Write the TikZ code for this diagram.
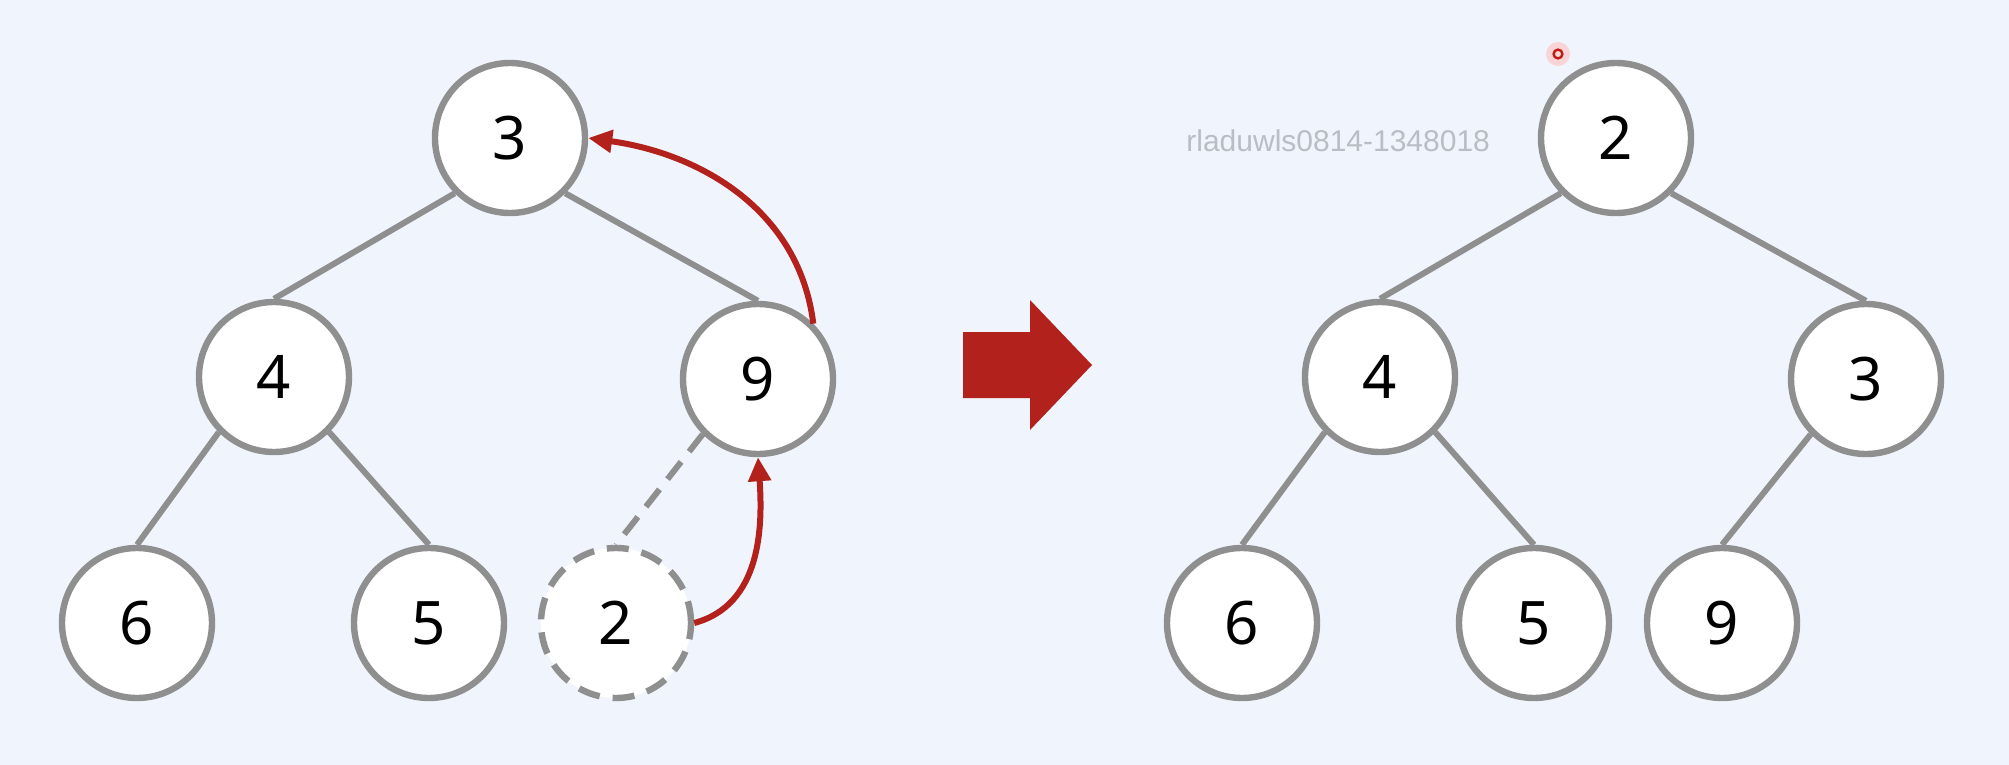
\documentclass[tikz,border=0pt]{standalone}
\usepackage{fontspec}
\setmainfont{Noto Sans}
\newfontfamily\wmfont{Liberation Sans}
\usetikzlibrary{arrows.meta}
\definecolor{bgc}{HTML}{F0F5FD}
\definecolor{edgegray}{HTML}{8F8F8F}
\definecolor{hred}{HTML}{B3211C}
\definecolor{wmgray}{HTML}{B9BDC6}
\tikzset{
  tnode/.style={circle, draw=edgegray, line width=3.2pt, fill=white, minimum size=75pt, inner sep=0pt, font=\fontsize{30}{34}\selectfont},
  dnode/.style={tnode, dash pattern=on 11pt off 6.5pt},
  tedge/.style={draw=edgegray, line width=3pt},
  dedge/.style={tedge, dash pattern=on 11pt off 6.5pt},
  movearrow/.style={draw=hred, line width=3pt, -{Triangle[length=12pt,width=11pt]}},
}
\begin{document}
\begin{tikzpicture}[x=0.5pt,y=-0.5pt]
\useasboundingbox (0,0) rectangle (2009,765);
\fill[bgc] (0,0) rectangle (2009,765);
% left tree
\node[tnode] (L3) at (510,138) {3};
\node[tnode] (L4) at (274,377) {4};
\node[tnode] (L9) at (758,379) {9};
\node[tnode] (L6) at (137,623) {6};
\node[tnode] (L5) at (429,623) {5};
\node[dnode] (L2) at (616,623) {2};
\draw[tedge] (L3.-135) -- (L4.north);
\draw[tedge] (L3.-45) -- (L9.north);
\draw[tedge] (L4.-135) -- (L6.north);
\draw[tedge] (L4.-45) -- (L5.north);
\draw[dedge] (L9.-135) -- (L2.north);
\draw[movearrow] (L9.45) to[out=97, in=-8] (L3.east);
\draw[movearrow] (L2.east) to[out=15, in=-86] (L9.south);
% big arrow
\fill[hred] (963,332) -- (1030,332) -- (1030,300) -- (1092,365) -- (1030,430) -- (1030,398) -- (963,398) -- cycle;
% right tree
\node[tnode] (R2) at (1616,138) {2};
\node[tnode] (R4) at (1380,377) {4};
\node[tnode] (R3) at (1866,379) {3};
\node[tnode] (R6) at (1242,623) {6};
\node[tnode] (R5) at (1534,623) {5};
\node[tnode] (R9) at (1722,623) {9};
\draw[tedge] (R2.-135) -- (R4.north);
\draw[tedge] (R2.-45) -- (R3.north);
\draw[tedge] (R4.-135) -- (R6.north);
\draw[tedge] (R4.-45) -- (R5.north);
\draw[tedge] (R3.-135) -- (R9.north);
% watermark
\node[font=\wmfont\fontsize{15}{18}\selectfont, text=wmgray, anchor=west, inner sep=0pt] (wm) at (1186,141) {rladuwls0814-1348018};
% red dot
\fill[red!25, opacity=0.6] (1558,54) circle (6pt);
\draw[hred!80!red, line width=1.2pt, fill=red!15] (1558,54) circle (2.2pt);
\end{tikzpicture}
\end{document}
